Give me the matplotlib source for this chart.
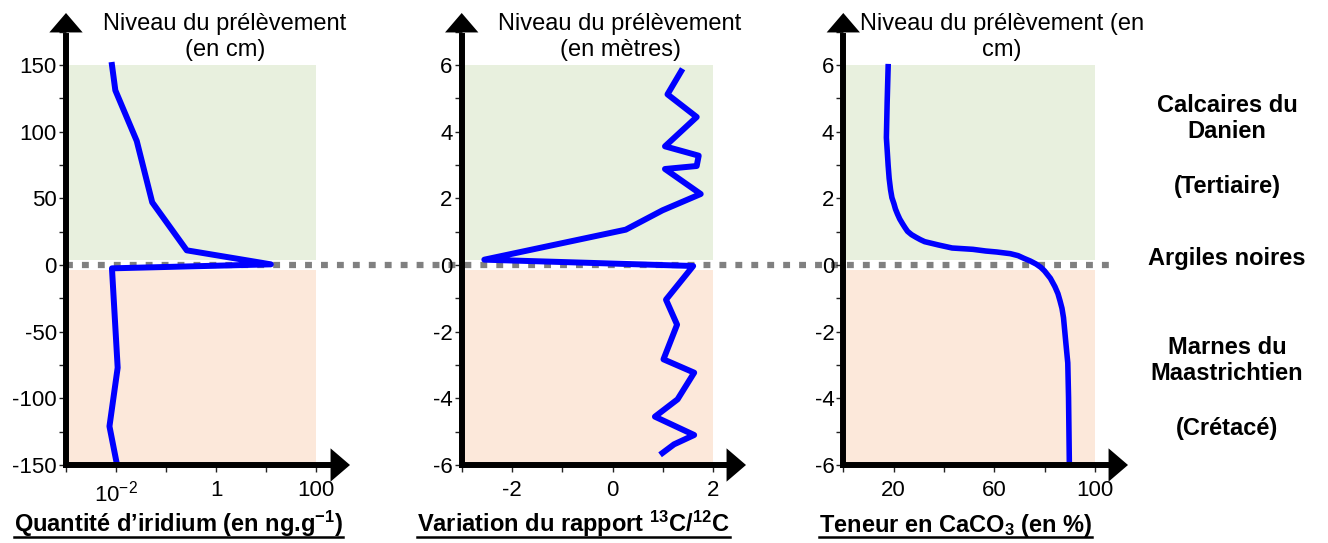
import matplotlib
matplotlib.use('Agg')
import matplotlib.pyplot as plt
from matplotlib.patches import FancyArrowPatch
from matplotlib.lines import Line2D
import matplotlib.transforms as mtransforms
from matplotlib.ticker import FixedLocator, FixedFormatter, NullLocator, MultipleLocator

plt.rcParams['font.family'] = ['Liberation Sans', 'DejaVu Sans']
plt.rcParams['mathtext.fontset'] = 'custom'
plt.rcParams['mathtext.rm'] = 'Liberation Sans'
plt.rcParams['mathtext.bf'] = 'Liberation Sans:bold'
plt.rcParams['mathtext.it'] = 'Liberation Sans:italic'
plt.rcParams['axes.unicode_minus'] = False

# ---------------- data ----------------
# Panel 1 : iridium (ng/g, log scale) vs level (cm)
iridium_level_cm = [150, 131, 93, 47, 11, 0.5, -2.5, -77, -121, -146]
iridium_ng_g = [0.0083, 0.0097, 0.026, 0.053, 0.26, 12.5, 0.0083, 0.0108, 0.0074, 0.0100]

# Panel 2 : 13C/12C variation vs level (m)
c13_level_m = [5.81, 5.12, 4.44, 3.56, 3.28, 2.97, 2.88, 2.13, 1.64, 1.06, 0.16,
               -0.03, -1.04, -1.79, -2.83, -3.23, -4.03, -4.55, -5.10, -5.38, -5.64]
c13_ratio = [1.36, 1.09, 1.67, 1.04, 1.71, 1.67, 1.04, 1.75, 0.99, 0.26, -2.55,
             1.60, 1.06, 1.28, 1.01, 1.62, 1.29, 0.84, 1.62, 1.22, 0.99]

# Panel 3 : CaCO3 content (%) vs level (m)
caco3_level_m = [5.95, 4.86, 3.82, 2.99, 2.60, 2.26, 2.02, 1.84, 1.68, 1.53, 1.38,
                 1.24, 1.12, 1.01, 0.91, 0.83, 0.76, 0.70, 0.60, 0.51, 0.47,
                 0.42, 0.39, 0.34, 0.28, 0.20, 0.12, 0.03, -0.07, -0.18, -0.40,
                 -0.65, -0.86, -1.07, -1.30, -1.58, -2.31, -2.94, -3.97, -5.84]
caco3_pct = [17.8, 17.4, 17.1, 17.8, 18.2, 18.75, 19.3, 20.1, 20.7, 21.5, 22.4,
             23.5, 24.5, 25.5, 27.1, 28.9, 30.6, 32.3, 37.8, 43.2, 51.4,
             56.5, 60.9, 66.3, 69.4, 71.7, 74.2, 76.5, 78.4, 79.9, 82.2,
             84.0, 85.2, 86.0, 86.8, 87.4, 88.3, 89.1, 89.4, 89.7]

# tick labels
ir_xticks = [1e-3, 1e-2, 1e-1, 1, 10, 100]
ir_xlabels = ['', r'$\mathregular{10^{-2}}$', '', '1', '', '100']
c13_xticks = [-3, -2, -1, 0, 1, 2]
c13_xlabels = ['', '-2', '', '0', '', '2']
caco3_xticks = [0, 20, 40, 60, 80, 100]
caco3_xlabels = ['', '20', '', '60', '', '100']
cm_yticks = [-150, -100, -50, 0, 50, 100, 150]
m_yticks = [-6, -4, -2, 0, 2, 4, 6]

titles = ['Niveau du prélèvement\n(en cm)',
          'Niveau du prélèvement\n(en mètres)',
          'Niveau du prélèvement (en\ncm)']
xlabels = [r'Quantité d’iridium (en ng.g$\mathbf{^{-1}}$)',
           r'Variation du rapport $\mathbf{^{13}C/^{12}C}$',
           r'Teneur en CaCO$\mathbf{_3}$ (en %)']
layer_labels = ['Calcaires du\nDanien', '(Tertiaire)', 'Argiles noires',
                'Marnes du\nMaastrichtien', '(Crétacé)']

GREEN = '#E8F0DE'
PINK = '#FCE8DA'
BLUE = '#0000FF'

W, H = 1328, 543
fig = plt.figure(figsize=(W / 100, H / 100), dpi=100)


def px_axes(left, top, right, bottom):
    return fig.add_axes([left / W, 1 - bottom / H, (right - left) / W, (bottom - top) / H])


ax1 = px_axes(66, 13, 350, 465)
ax2 = px_axes(461.7, 13, 746, 465)
ax3 = px_axes(843.3, 13, 1128, 465)

ax1.set_xscale('log')
ax1.set_xlim(1e-3, 10 ** 2.68)
ax1.set_ylim(-150, 189)
ax2.set_xlim(-3, 2.65)
ax2.set_ylim(-6, 7.56)
ax3.set_xlim(0, 113)
ax3.set_ylim(-6, 7.56)

# shaded layers
ax1.fill_between([1e-3, 100], 4, 150, color=GREEN, lw=0, zorder=0)
ax1.fill_between([1e-3, 100], -150, -4, color=PINK, lw=0, zorder=0)
ax2.fill_between([-3, 2], 0.15, 6, color=GREEN, lw=0, zorder=0)
ax2.fill_between([-3, 2], -6, -0.15, color=PINK, lw=0, zorder=0)
ax3.fill_between([0, 100], 0.15, 6, color=GREEN, lw=0, zorder=0)
ax3.fill_between([0, 100], -6, -0.15, color=PINK, lw=0, zorder=0)

# curves
ax1.plot(iridium_ng_g, iridium_level_cm, color=BLUE, lw=4.3, zorder=3)
ax2.plot(c13_ratio, c13_level_m, color=BLUE, lw=4.3, zorder=3)
ax3.plot(caco3_pct, caco3_level_m, color=BLUE, lw=4.0, zorder=3)

# ticks
ax1.xaxis.set_major_locator(FixedLocator(ir_xticks))
ax1.xaxis.set_major_formatter(FixedFormatter(ir_xlabels))
ax1.xaxis.set_minor_locator(NullLocator())
ax1.yaxis.set_major_locator(FixedLocator(cm_yticks))
ax1.yaxis.set_minor_locator(MultipleLocator(25))

ax2.xaxis.set_major_locator(FixedLocator(c13_xticks))
ax2.xaxis.set_major_formatter(FixedFormatter(c13_xlabels))
ax2.yaxis.set_major_locator(FixedLocator(m_yticks))
ax2.yaxis.set_minor_locator(MultipleLocator(1))

ax3.xaxis.set_major_locator(FixedLocator(caco3_xticks))
ax3.xaxis.set_major_formatter(FixedFormatter(caco3_xlabels))
ax3.yaxis.set_major_locator(FixedLocator(m_yticks))
ax3.yaxis.set_minor_locator(MultipleLocator(1))

for ax in (ax1, ax2, ax3):
    ax.patch.set_visible(False)
    for s in ax.spines.values():
        s.set_visible(False)
    ax.tick_params(axis='both', which='both', direction='out', length=5, width=1,
                   color='#222222', labelsize=16, labelcolor='black')
    ax.tick_params(axis='y', pad=1.5)
    ax.tick_params(axis='x', pad=6)
    # axis lines
    ax.plot([0, 0.95], [0, 0], transform=ax.transAxes, color='k', lw=4.3,
            clip_on=False, solid_capstyle='projecting', zorder=5)
    ax.plot([0, 0], [0, 0.95], transform=ax.transAxes, color='k', lw=4.3,
            clip_on=False, solid_capstyle='projecting', zorder=5)
    for a, b in (((0.9, 0), (1, 0)), ((0, 0.9), (0, 1))):
        arr = FancyArrowPatch(a, b, transform=ax.transAxes,
                              arrowstyle='-|>,head_length=1.4,head_width=1.2',
                              mutation_scale=10, lw=0, color='k', clip_on=False,
                              shrinkA=0, shrinkB=0, zorder=6)
        ax.add_patch(arr)

# boundary dotted line across the figure (y = 0)
trans = mtransforms.blended_transform_factory(fig.transFigure, ax1.transData)
ax1.plot([66 / W, 1112 / W], [0, 0], transform=trans, color='#808080', lw=4.5,
         ls=(0, (1.1, 1.45)), dash_capstyle='butt', clip_on=False, zorder=2)

# titles
for xc, t in zip([225, 620, 1002], titles):
    fig.text(xc / W, 1 - 37 / H, t, ha='center', va='center', fontsize=17,
             linespacing=1.25)

# layer labels
for yc, t in zip([118.5, 186, 259, 360.5, 428], layer_labels):
    fig.text(1227 / W, 1 - yc / H, t, ha='center', va='center', fontsize=17,
             fontweight='bold', linespacing=1.2)

# x labels (bold, underlined)
xl_texts = []
for xc, t in zip([178.5, 573.5, 955.5], xlabels):
    xl_texts.append(fig.text(xc / W, (H - 532) / H, t, ha='center', va='baseline',
                             fontsize=17, fontweight='bold'))

fig.canvas.draw()
r = fig.canvas.get_renderer()
for t in xl_texts:
    bb = t.get_window_extent(r)
    fig.add_artist(Line2D([bb.x0 / W, bb.x1 / W], [(H - 537) / H, (H - 537) / H],
                          transform=fig.transFigure, color='k', lw=1.8))

fig.savefig('out.png', dpi=100)
